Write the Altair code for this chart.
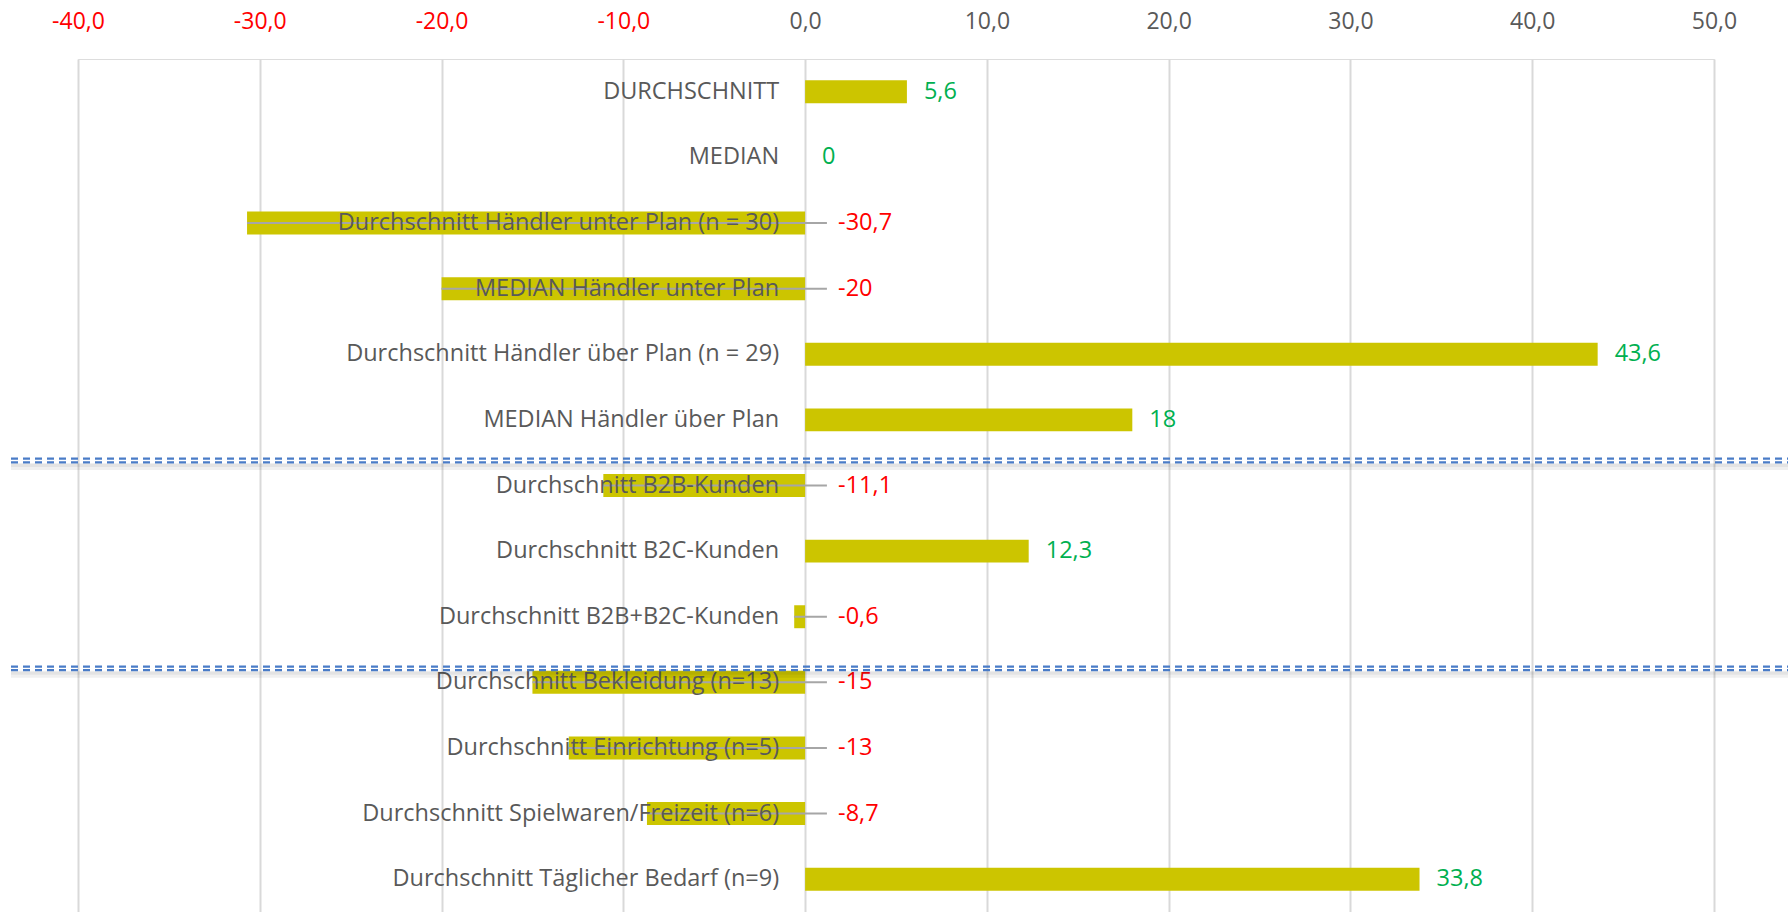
import altair as alt
import pandas as pd

categories = [
    "DURCHSCHNITT",
    "MEDIAN",
    "Durchschnitt Händler unter Plan (n = 30)",
    "MEDIAN Händler unter Plan",
    "Durchschnitt Händler über Plan (n = 29)",
    "MEDIAN Händler über Plan",
    "Durchschnitt B2B-Kunden",
    "Durchschnitt B2C-Kunden",
    "Durchschnitt B2B+B2C-Kunden",
    "Durchschnitt Bekleidung (n=13)",
    "Durchschnitt Einrichtung (n=5)",
    "Durchschnitt Spielwaren/Freizeit (n=6)",
    "Durchschnitt Täglicher Bedarf (n=9)",
]
values = [5.6, 0, -30.7, -20, 43.6, 18, -11.1, 12.3, -0.6, -15, -13, -8.7, 33.8]
value_labels = ["5,6", "0", "-30,7", "-20", "43,6", "18", "-11,1", "12,3",
                "-0,6", "-15", "-13", "-8,7", "33,8"]
x_ticks = [-40, -30, -20, -10, 0, 10, 20, 30, 40, 50]

# separators: category below the line, and pixel offset from that row's centre
separator_rows = ["Durchschnitt B2B-Kunden", "Durchschnitt Bekleidung (n=13)"]
separator_offsets = [-25, -14]

df = pd.DataFrame({"cat": categories, "value": values, "label": value_labels})

FONT = "Open Sans"
GRAY = "#595959"
W, H = 1636, 853

xscale = alt.Scale(domain=[-40, 50], nice=False, zero=False)
yscale = alt.Scale(domain=categories, paddingInner=0.65, paddingOuter=0.325)

x_axis = alt.Axis(
    orient="top", values=x_ticks, title=None, domain=False, ticks=False,
    tickSize=0, grid=True, gridColor="#D9D9D9", gridWidth=2,
    labelFont=FONT, labelFontSize=23, labelPadding=31, labelFlush=False,
    labelBaseline="alphabetic",
    labelColor=alt.expr("datum.value < 0 ? '#FF0000' : '#595959'"),
    labelExpr="(datum.value < 0 ? '-' : '') + replace(format(abs(datum.value), '.1f'), '.', ',')",
)

base = alt.Chart(df)

bars = base.mark_bar(color="#CCC500").encode(
    x=alt.X("value:Q", scale=xscale, axis=x_axis),
    x2=alt.datum(0),
    y=alt.Y("cat:N", sort=categories, scale=yscale, axis=None),
)

leaders = base.transform_filter("datum.value < 0").mark_rule(
    color="#A6A6A6", strokeWidth=2
).encode(
    x=alt.X("value:Q", scale=xscale),
    x2=alt.datum(1.2),
    y=alt.Y("cat:N", sort=categories, scale=yscale),
)

cat_text = base.mark_text(
    align="right", baseline="middle", dx=-26, font=FONT, fontSize=23.5, color=GRAY
).encode(
    x=alt.datum(0),
    y=alt.Y("cat:N", sort=categories, scale=yscale),
    text="cat:N",
)

pos_labels = base.transform_filter("datum.value >= 0").mark_text(
    align="left", baseline="middle", dx=17, font=FONT, fontSize=23.5, color="#00B050"
).encode(
    x=alt.X("value:Q", scale=xscale),
    y=alt.Y("cat:N", sort=categories, scale=yscale),
    text="label:N",
)

neg_labels = base.transform_filter("datum.value < 0").mark_text(
    align="left", baseline="middle", dx=33, font=FONT, fontSize=23.5, color="#FF0000"
).encode(
    x=alt.datum(0),
    y=alt.Y("cat:N", sort=categories, scale=yscale),
    text="label:N",
)

sep_layers = []
for row, off in zip(separator_rows, separator_offsets):
    sdf = pd.DataFrame({"cat": [row]})
    sc = alt.Chart(sdf)
    enc = dict(
        x=alt.value(-67), x2=alt.value(1710),
        y=alt.Y("cat:N", sort=categories, scale=yscale),
    )
    sep_layers.append(sc.mark_rule(color="#000000", opacity=0.06, strokeWidth=7,
                                   yOffset=off + 6).encode(**enc))
    sep_layers.append(sc.mark_rule(color="#000000", opacity=0.05, strokeWidth=3,
                                   yOffset=off + 5).encode(**enc))
    for d in (-1.8, 1.8):
        sep_layers.append(sc.mark_rule(color="#4A7CC7", strokeWidth=2.2,
                                       strokeDash=[7, 5], yOffset=off + d).encode(**enc))

chart = alt.layer(bars, leaders, cat_text, pos_labels, neg_labels, *sep_layers).properties(
    width=W, height=H,
    autosize=alt.AutoSizeParams(type="none"),
    padding={"left": 78, "top": 59, "right": 78, "bottom": 0},
).configure_view(stroke=None).configure(background="white")

chart.save("out.html", embed_options={"renderer": "svg", "actions": False})
